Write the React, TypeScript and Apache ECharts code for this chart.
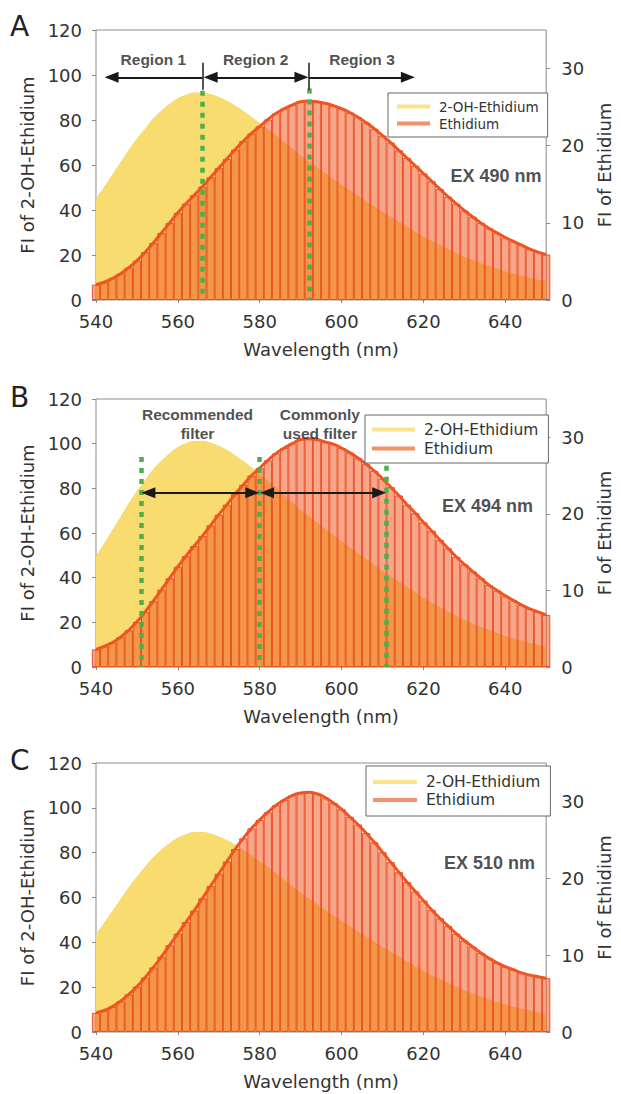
import React, { useEffect, useRef } from "react";
import * as echarts from "echarts";

// ---------- data ----------
const wavelengths = [540, 542, 544, 546, 548, 550, 552, 554, 556, 558, 560, 562, 564, 566, 568, 570, 572, 574, 576, 578, 580, 582, 584, 586, 588, 590, 592, 594, 596, 598, 600, 602, 604, 606, 608, 610, 612, 614, 616, 618, 620, 622, 624, 626, 628, 630, 632, 634, 636, 638, 640, 642, 644, 646, 648, 650];

const ohEthidiumA = [45, 50, 55.5, 61, 66.5, 71.5, 76, 80.5, 84, 87, 89.5, 91, 92, 92, 91.3, 90, 88.3, 86.2, 83.8, 81.2, 78.5, 75.8, 73, 70, 67, 64, 61.4, 58.8, 56.2, 53.6, 51, 48.6, 46.2, 43.8, 41.4, 39, 36.8, 34.6, 32.4, 30.2, 28, 26.1, 24.3, 22.5, 20.7, 19, 17.6, 16.2, 14.9, 13.7, 12.5, 11.5, 10.6, 9.7, 8.8, 8];
const ethidiumA = [2.0, 2.3, 2.8, 3.4, 4.2, 5.1, 6.2, 7.4, 8.7, 10.0, 11.3, 12.5, 13.6, 14.7, 15.9, 17.1, 18.3, 19.5, 20.6, 21.6, 22.5, 23.4, 24.2, 24.8, 25.3, 25.7, 25.8, 25.7, 25.5, 25.2, 24.8, 24.3, 23.7, 23.0, 22.2, 21.3, 20.4, 19.4, 18.4, 17.4, 16.4, 15.4, 14.4, 13.4, 12.5, 11.6, 10.8, 10.0, 9.3, 8.7, 8.1, 7.6, 7.1, 6.6, 6.2, 5.9];

const ohEthidiumB = [49.5, 55, 61, 67, 73, 78.5, 83.5, 88.4, 92.2, 95.5, 98.3, 100, 101, 101, 100.2, 98.8, 97, 94.6, 92, 89.2, 86.2, 83.2, 80.2, 76.9, 73.6, 70.3, 67.4, 64.6, 61.7, 58.9, 56, 53.4, 50.7, 48.1, 45.5, 42.8, 40.4, 38, 35.6, 33.2, 30.7, 28.7, 26.7, 24.7, 22.7, 20.9, 19.3, 17.8, 16.4, 15, 13.7, 12.6, 11.6, 10.6, 9.7, 8.8];
const ethidiumB = [2.3, 2.7, 3.2, 3.9, 4.8, 5.9, 7.2, 8.6, 10.1, 11.6, 13.1, 14.5, 15.8, 17.1, 18.5, 19.9, 21.2, 22.6, 23.8, 25.0, 26.0, 27.0, 27.9, 28.6, 29.2, 29.7, 29.8, 29.7, 29.4, 29.1, 28.6, 28.0, 27.3, 26.5, 25.6, 24.6, 23.5, 22.4, 21.2, 20.1, 18.9, 17.8, 16.6, 15.5, 14.4, 13.4, 12.5, 11.6, 10.7, 10.0, 9.3, 8.7, 8.1, 7.6, 7.2, 6.8];

const ohEthidiumC = [43.5, 48.4, 53.7, 59, 64.3, 69.1, 73.5, 77.8, 81.2, 84.1, 86.5, 88, 89, 89, 88.3, 87, 85.4, 83.4, 81, 78.5, 75.9, 73.3, 70.6, 67.7, 64.8, 61.9, 59.4, 56.9, 54.3, 51.8, 49.3, 47, 44.7, 42.4, 40, 37.7, 35.6, 33.5, 31.3, 29.2, 27.1, 25.2, 23.5, 21.8, 20, 18.4, 17, 15.7, 14.4, 13.2, 12.1, 11.1, 10.2, 9.4, 8.5, 7.7];
const ethidiumC = [2.5, 2.8, 3.3, 4.0, 4.9, 5.9, 7.1, 8.4, 9.8, 11.3, 12.8, 14.3, 15.8, 17.4, 19.0, 20.6, 22.2, 23.8, 25.2, 26.5, 27.6, 28.6, 29.5, 30.2, 30.8, 31.1, 31.2, 31.0, 30.5, 29.8, 29.0, 28.0, 27.0, 25.9, 24.7, 23.4, 22.1, 20.8, 19.5, 18.3, 17.1, 15.9, 14.8, 13.8, 12.8, 11.9, 11.1, 10.3, 9.6, 9.0, 8.5, 8.1, 7.7, 7.4, 7.2, 7.0];

const panelLetters = ["A", "B", "C"];
const excitationLabels = ["EX 490 nm", "EX 494 nm", "EX 510 nm"];
const excitationAnchors = [[649, 55], [646.9, 72], [647.4, 75.4]];

const regionNames = ["Region 1", "Region 2", "Region 3"];
const regionCenters = [554, 579, 605];
const regionLabelY = 107;
const regionBoundaries = [566, 592];
const regionBoundaryTops = [93, 94];
const regionArrowY = 99;
// arrow end points (triangle centres) – tips sit ~1.8 nm further out
const regionArrows = [
  [566, 543.8, "none", "triangle"],
  [568, 590.2, "triangle", "triangle"],
  [592, 616.2, "none", "triangle"],
];

const filterNames = ["Recommended\nfilter", "Commonly\nused filter"];
const filterCenters = [564.8, 594.7];
const filterLabelY = 109;
const filterEdges = [551, 580, 611];
const filterEdgeTops = [94, 94, 95];
const filterArrowY = 78;
const filterArrows = [
  [552.8, 578.2],
  [581.8, 609.2],
];

const yellowSeries = [ohEthidiumA, ohEthidiumB, ohEthidiumC];
const ethSeries = [ethidiumA, ethidiumB, ethidiumC];

// ---------- styling / layout ----------
const FONT = "DejaVu Sans";
const BOLD = "Liberation Sans";
const TXT = "#333";
const GREEN = "#4DAF4A";
const BLACK = "#1a1a1a";

const grids = [
  { left: 96, width: 457, top: 30, height: 270 },
  { left: 96, width: 457, top: 399, height: 268 },
  { left: 96, width: 457, top: 763, height: 269 },
];
const letterY = [27, 398, 761];
const legends = [
  { left: 388, top: 93, itemWidth: 33, fontSize: 13.5, lineHeight: 15, itemGap: 2, padding: [6, 9, 6, 9] },
  { left: 365, top: 415, itemWidth: 43, fontSize: 15.5, lineHeight: 17, itemGap: 2, padding: [6, 10, 6, 7] },
  { left: 366, top: 766, itemWidth: 44, fontSize: 15.5, lineHeight: 16, itemGap: 2, padding: [8, 10, 8, 7] },
];

const greenLine = { color: GREEN, width: 4.5, type: [5, 6] as any };
const blackLine = { color: BLACK, width: 2, type: "solid" as any };

function buildOption() {
  const xAxis: any[] = [];
  const yAxis: any[] = [];
  const series: any[] = [];
  const legend: any[] = [];
  const graphic: any[] = [];

  grids.forEach((g, i) => {
    xAxis.push({
      type: "value",
      gridIndex: i,
      min: 540,
      max: 650,
      interval: 20,
      axisLine: { show: false },
      axisTick: { show: true, length: 3, lineStyle: { color: "#888" } },
      axisLabel: { fontSize: 18, color: TXT, margin: 12, fontFamily: FONT, showMaxLabel: false },
      splitLine: { show: false },
      name: "Wavelength (nm)",
      nameLocation: "middle",
      nameGap: 40,
      nameTextStyle: { fontSize: 18, color: TXT, fontFamily: FONT },
    });
    yAxis.push({
      type: "value",
      gridIndex: i,
      position: "left",
      min: 0,
      max: 120,
      interval: 20,
      axisLine: { show: false },
      axisTick: { show: true, length: 4, lineStyle: { color: "#888" } },
      axisLabel: { fontSize: 18, color: TXT, margin: 14, fontFamily: FONT },
      splitLine: { show: false },
      name: "FI of 2-OH-Ethidium",
      nameLocation: "middle",
      nameGap: 49,
      nameTextStyle: { fontSize: 18, color: TXT, fontFamily: FONT },
    });
    yAxis.push({
      type: "value",
      gridIndex: i,
      position: "right",
      min: 0,
      max: 35,
      interval: 10,
      axisLine: { show: false },
      axisTick: { show: true, length: 4, lineStyle: { color: "#888" } },
      axisLabel: { fontSize: 18, color: TXT, margin: 15, fontFamily: FONT, showMaxLabel: false },
      splitLine: { show: false },
      name: "FI of Ethidium",
      nameLocation: "middle",
      nameGap: 41,
      nameTextStyle: { fontSize: 18, color: TXT, fontFamily: FONT },
    });

    const yellow = yellowSeries[i];
    const eth = ethSeries[i];

    series.push({
      type: "line",
      name: "2-OH-Ethidium",
      xAxisIndex: i,
      yAxisIndex: 2 * i,
      data: wavelengths.map((w, k) => [w, yellow[k]]),
      smooth: true,
      symbol: "none",
      lineStyle: { width: 1, color: "#F7D966" },
      areaStyle: { color: "#F9DC70", opacity: 1 },
      z: 1,
    });
    series.push({
      type: "bar",
      name: "Ethidium",
      xAxisIndex: i,
      yAxisIndex: 2 * i + 1,
      data: wavelengths.map((w, k) => [w, eth[k]]),
      barWidth: 8.3,
      clip: true,
      itemStyle: {
        color: "rgba(240,92,40,0.55)",
        borderColor: "rgba(232,70,28,0.9)",
        borderWidth: 1,
      },
      z: 2,
    });
    series.push({
      type: "line",
      name: "Ethidium",
      xAxisIndex: i,
      yAxisIndex: 2 * i + 1,
      data: wavelengths.map((w, k) => [w, eth[k]]),
      smooth: true,
      symbol: "none",
      lineStyle: { width: 3, color: "#EF5423" },
      z: 3,
    });

    // annotations
    const labelData: any[] = [];
    const markData: any[] = [];
    labelData.push({
      name: excitationLabels[i],
      value: excitationAnchors[i],
      label: {
        position: "left",
        distance: 0,
        fontSize: 18,
        fontWeight: "bold",
        fontFamily: BOLD,
        color: "#222",
      },
    });
    if (i === 0) {
      regionNames.forEach((n, k) => {
        labelData.push({
          name: n,
          value: [regionCenters[k], regionLabelY],
          label: { position: "inside", fontSize: 15.5, fontWeight: "bold", fontFamily: BOLD, color: "#222" },
        });
      });
      regionBoundaries.forEach((x, k) => {
        markData.push([
          { coord: [x, regionBoundaryTops[k]], symbol: "none", lineStyle: greenLine },
          { coord: [x, 0], symbol: "none", lineStyle: greenLine },
        ]);
        markData.push([
          { coord: [x, 105.5], symbol: "none", lineStyle: { ...blackLine, width: 1.5 } },
          { coord: [x, 93.5], symbol: "none", lineStyle: { ...blackLine, width: 1.5 } },
        ]);
      });
      regionArrows.forEach((a) => {
        markData.push([
          { coord: [a[0], regionArrowY], symbol: a[2], lineStyle: blackLine },
          { coord: [a[1], regionArrowY], symbol: a[3], lineStyle: blackLine },
        ]);
      });
    }
    if (i === 1) {
      filterNames.forEach((n, k) => {
        labelData.push({
          name: n,
          value: [filterCenters[k], filterLabelY],
          label: { position: "inside", fontSize: 15.5, lineHeight: 19, fontWeight: "bold", fontFamily: BOLD, color: "#222" },
        });
      });
      filterEdges.forEach((x, k) => {
        markData.push([
          { coord: [x, filterEdgeTops[k]], symbol: "none", lineStyle: greenLine },
          { coord: [x, 0], symbol: "none", lineStyle: greenLine },
        ]);
      });
      filterArrows.forEach((a) => {
        markData.push([
          { coord: [a[0], filterArrowY], symbol: "triangle", lineStyle: blackLine },
          { coord: [a[1], filterArrowY], symbol: "triangle", lineStyle: blackLine },
        ]);
      });
    }

    series.push({
      type: "scatter",
      name: "annotations" + i,
      xAxisIndex: i,
      yAxisIndex: 2 * i,
      data: labelData,
      symbol: "circle",
      symbolSize: 1,
      itemStyle: { color: "rgba(0,0,0,0)" },
      label: { show: true, formatter: "{b}" },
      silent: true,
      z: 6,
      markLine: {
        silent: true,
        symbolSize: [11, 14],
        label: { show: false },
        emphasis: { disabled: true },
        data: markData,
        z: 6,
      },
    });

    const lg = legends[i];
    legend.push({
      orient: "vertical",
      left: lg.left,
      top: lg.top,
      itemWidth: lg.itemWidth,
      itemHeight: 4,
      itemGap: lg.itemGap,
      padding: lg.padding,
      backgroundColor: "#fff",
      borderColor: "#666",
      borderWidth: 1,
      borderRadius: 0,
      selectedMode: false,
      textStyle: {
        fontSize: lg.fontSize,
        lineHeight: lg.lineHeight,
        color: TXT,
        fontFamily: FONT,
        padding: [0, 0, 0, 4],
      },
      data: [
        { name: "2-OH-Ethidium", icon: "rect", itemStyle: { color: "#FBE38A", borderWidth: 0 } },
        { name: "Ethidium", icon: "rect", itemStyle: { color: "#F3916B", borderWidth: 0 } },
      ],
      z: 10,
    });

    graphic.push({
      type: "text",
      left: 10,
      top: letterY[i] - 15,
      style: { text: panelLetters[i], fontSize: 28, fontFamily: FONT, fill: "#222" },
    });
  });

  return {
    animation: false,
    backgroundColor: "#fff",
    textStyle: { fontFamily: FONT },
    grid: grids.map((g) => ({ ...g, show: true, borderColor: "#8c8c8c", borderWidth: 1, backgroundColor: "transparent" })),
    xAxis,
    yAxis,
    legend,
    series,
    graphic,
  };
}

export default function App() {
  const ref = useRef<HTMLDivElement>(null);
  useEffect(() => {
    if (!ref.current) return;
    const chart = echarts.init(ref.current, undefined, { renderer: "svg" });
    chart.setOption(buildOption() as any);
    return () => chart.dispose();
  }, []);
  return (
    <div
      ref={ref}
      style={{ position: "absolute", left: 0, top: 0, width: 621, height: 1094, background: "#fff" }}
    />
  );
}
